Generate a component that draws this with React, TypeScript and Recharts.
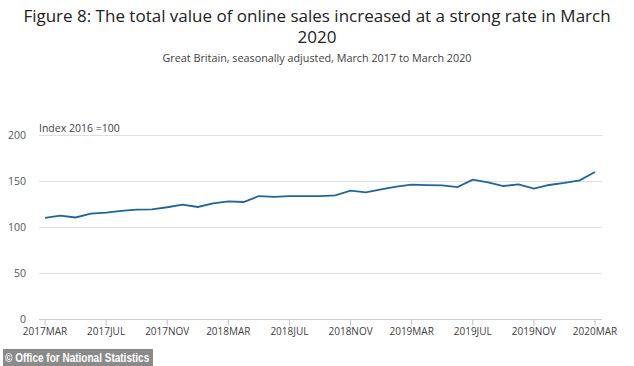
import React from "react";
import { LineChart, Line, XAxis, YAxis, CartesianGrid } from "recharts";

const months = [
  "2017MAR","2017APR","2017MAY","2017JUN","2017JUL","2017AUG","2017SEP","2017OCT","2017NOV","2017DEC",
  "2018JAN","2018FEB","2018MAR","2018APR","2018MAY","2018JUN","2018JUL","2018AUG","2018SEP","2018OCT","2018NOV","2018DEC",
  "2019JAN","2019FEB","2019MAR","2019APR","2019MAY","2019JUN","2019JUL","2019AUG","2019SEP","2019OCT","2019NOV","2019DEC",
  "2020JAN","2020FEB","2020MAR",
];
const values = [
  110.5, 112.8, 110.9, 115.0, 116.1, 118.0, 119.4, 119.8, 122.0, 124.8,
  122.3, 126.3, 128.4, 127.7, 134.2, 133.2, 134.2, 134.2, 134.2, 135.0,
  140.0, 138.2, 141.5, 144.4, 146.5, 146.1, 145.8, 144.0, 152.0,
  149.1, 145.1, 146.9, 142.2, 146.2, 148.4, 151.3, 160.3,
];
const xTicks = ["2017MAR","2017JUL","2017NOV","2018MAR","2018JUL","2018NOV","2019MAR","2019JUL","2019NOV","2020MAR"];
const yTicks = [0, 50, 100, 150, 200];

const data = months.map((m, i) => ({ month: m, value: values[i] }));

const font = "'Open Sans', sans-serif";

export default function App() {
  return (
    <div style={{ position: "absolute", left: 0, top: 0, width: 634, height: 366, background: "#fff", fontFamily: font, overflow: "hidden" }}>
      <div style={{ position: "absolute", left: 0, top: 5, width: 634, textAlign: "center", fontSize: 17, lineHeight: "21px", color: "#222", whiteSpace: "nowrap" }}>
        Figure 8: The total value of online sales increased at a strong rate in March<br />2020
      </div>
      <div style={{ position: "absolute", left: 0, top: 50, width: 634, textAlign: "center", fontSize: 10.8, color: "#414042", whiteSpace: "nowrap" }}>
        Great Britain, seasonally adjusted, March 2017 to March 2020
      </div>
      <div style={{ position: "absolute", left: 39, top: 121, fontSize: 10.5, color: "#414042" }}>Index 2016 =100</div>
      <div style={{ position: "absolute", left: 0, top: 0 }}>
        <LineChart width={634} height={366} data={data} margin={{ top: 135.5, right: 32, bottom: 16.5, left: 0 }}>
          <CartesianGrid vertical={false} stroke="#e0e0e0" strokeWidth={1} />
          <XAxis
            dataKey="month"
            ticks={xTicks}
            interval={0}
            padding={{ left: 6, right: 7 }}
            axisLine={{ stroke: "#c8d0dc" }}
            tickLine={{ stroke: "#b8c2d0" }}
            tickSize={6}
            tickMargin={2}
            height={30}
            tick={{ fontSize: 10, fill: "#414042", fontFamily: font }}
          />
          <YAxis
            domain={[0, 200]}
            ticks={yTicks}
            axisLine={false}
            tickLine={false}
            tickSize={0}
            tickMargin={13}
            width={39}
            tick={{ fontSize: 10.5, fill: "#555", fontFamily: font }}
          />
          <Line type="linear" dataKey="value" stroke="#1f6599" strokeWidth={1.8} dot={false} isAnimationActive={false} />
        </LineChart>
      </div>
      <div style={{ position: "absolute", left: 3, top: 349, width: 150, height: 17, background: "#8a8a8a", overflow: "hidden" }}>
        <div style={{ position: "absolute", left: 2, top: 0, color: "#fff", fontFamily: "'Liberation Sans', Arial, sans-serif", fontWeight: "bold", fontSize: 13, lineHeight: "17px", whiteSpace: "nowrap", transform: "scaleX(0.77)", transformOrigin: "left center" }}>
          © Office for National Statistics
        </div>
      </div>
    </div>
  );
}
